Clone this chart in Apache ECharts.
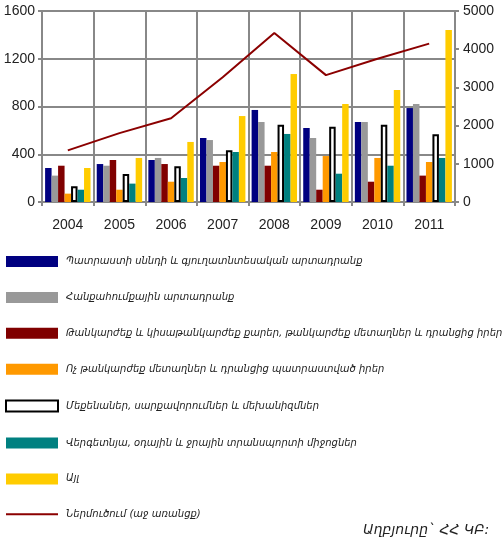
<!DOCTYPE html>
<html>
<head>
<meta charset="utf-8">
<script src="https://cdn.jsdelivr.net/npm/echarts@6/dist/echarts.min.js"></script>
<style>
  html, body { margin: 0; padding: 0; background: #fff; }
  #chart { width: 504px; height: 540px; }
</style>
</head>
<body>
<div id="chart"></div>
<script>
// Years on the category axis
const years = ['2004', '2005', '2006', '2007', '2008', '2009', '2010', '2011'];

// Import structure by commodity group (left axis, mln USD)
const foodAgri    = [285, 318, 352, 536, 771, 620, 670, 787];
const mineral     = [221, 304, 369, 519, 670, 536, 670, 821];
const precious    = [304, 352, 318, 304, 304, 103, 170, 221];
const baseMetals  = [70, 103, 170, 335, 419, 385, 369, 335];
const machinery   = [131, 235, 299, 433, 648, 631, 648, 567];
const transport   = [103, 154, 201, 419, 570, 237, 304, 369];
const other       = [285, 369, 503, 720, 1072, 821, 938, 1441];

// Total import (right axis)
const totalImport = [1351, 1802, 2192, 3268, 4426, 3321, 3749, 4145];

// Axis tick settings
const leftTicks = { min: 0, max: 1600, interval: 400 };
const rightTicks = { min: 0, max: 5000, interval: 1000 };

// Series names
const names = [
  'Պատրաստի սննդի և գյուղատնտեսական արտադրանք',
  'Հանքահումքային արտադրանք',
  'Թանկարժեք և կիսաթանկարժեք քարեր, թանկարժեք մետաղներ և դրանցից իրեր',
  'Ոչ թանկարժեք մետաղներ և դրանցից պատրաստված իրեր',
  'Մեքենաներ, սարքավորումներ և մեխանիզմներ',
  'Վերգետնյա, օդային և ջրային տրանսպորտի միջոցներ',
  'Այլ',
  'Ներմուծում (աջ առանցք)'
];
const sourceText = 'Աղբյուրը` ՀՀ ԿԲ:';

const barData = [foodAgri, mineral, precious, baseMetals, machinery, transport, other];
const barColors = ['#000080', '#999999', '#800000', '#ff9900', '#ffffff', '#008080', '#ffcc00'];

const chart = echarts.init(document.getElementById('chart'), null, { renderer: 'canvas' });

const series = barData.map((d, i) => ({
  name: names[i],
  type: 'bar',
  yAxisIndex: 0,
  data: d,
  barGap: '0%',
  barCategoryGap: '12%',
  itemStyle: i === 4
    ? { color: '#ffffff', borderColor: '#000000', borderWidth: 2 }
    : { color: barColors[i] },
  emphasis: { disabled: true }
}));

series.push({
  name: names[7],
  type: 'line',
  yAxisIndex: 1,
  data: totalImport,
  symbol: 'none',
  lineStyle: { color: '#8b0000', width: 2 },
  itemStyle: { color: '#8b0000' },
  emphasis: { disabled: true }
});

const labelFont = { fontFamily: 'Liberation Sans, Arial, sans-serif', fontSize: 14, color: '#222' };
const gridLine = { show: true, lineStyle: { color: '#888888', width: 2 } };
const plain = v => String(v);

chart.setOption({
  animation: false,
  backgroundColor: '#ffffff',
  grid: { left: 42, right: 49, top: 11, bottom: 338, containLabel: false },
  xAxis: {
    type: 'category',
    data: years,
    boundaryGap: true,
    axisLine: { show: true, lineStyle: { color: '#888888', width: 2 } },
    axisTick: { show: true, length: 4, lineStyle: { color: '#888888', width: 2 } },
    axisLabel: Object.assign({ margin: 16 }, labelFont),
    splitLine: gridLine
  },
  yAxis: [
    {
      type: 'value',
      min: leftTicks.min, max: leftTicks.max, interval: leftTicks.interval,
      axisLine: { show: true, lineStyle: { color: '#888888', width: 2 } },
      axisTick: { show: true, length: 4, lineStyle: { color: '#888888', width: 2 } },
      axisLabel: Object.assign({ margin: 7, formatter: plain }, labelFont),
      splitLine: gridLine
    },
    {
      type: 'value',
      min: rightTicks.min, max: rightTicks.max, interval: rightTicks.interval,
      position: 'right',
      axisLine: { show: true, lineStyle: { color: '#888888', width: 2 } },
      axisTick: { show: true, length: 4, lineStyle: { color: '#888888', width: 2 } },
      axisLabel: Object.assign({ margin: 8, formatter: plain }, labelFont),
      splitLine: { show: false }
    }
  ],
  legend: {
    orient: 'vertical',
    left: 5,
    top: 256,
    padding: 0,
    itemWidth: 52,
    itemHeight: 11,
    itemGap: 24.9,
    selectedMode: false,
    textStyle: {
      fontFamily: 'DejaVu Sans, sans-serif',
      fontStyle: 'italic',
      fontSize: 10,
      color: '#222',
      padding: [0, 0, 0, 3]
    },
    data: names.map((n, i) => i === 7 ? { name: n, icon: 'path://M0,0 L52,0 L52,2 L0,2 Z' } : { name: n, icon: 'rect' })
  },
  graphic: [{
    type: 'text',
    left: 363,
    top: 523,
    style: {
      text: sourceText,
      font: 'italic 14px "DejaVu Sans", sans-serif',
      fill: '#222'
    }
  }],
  series: series
});
</script>
</body>
</html>
